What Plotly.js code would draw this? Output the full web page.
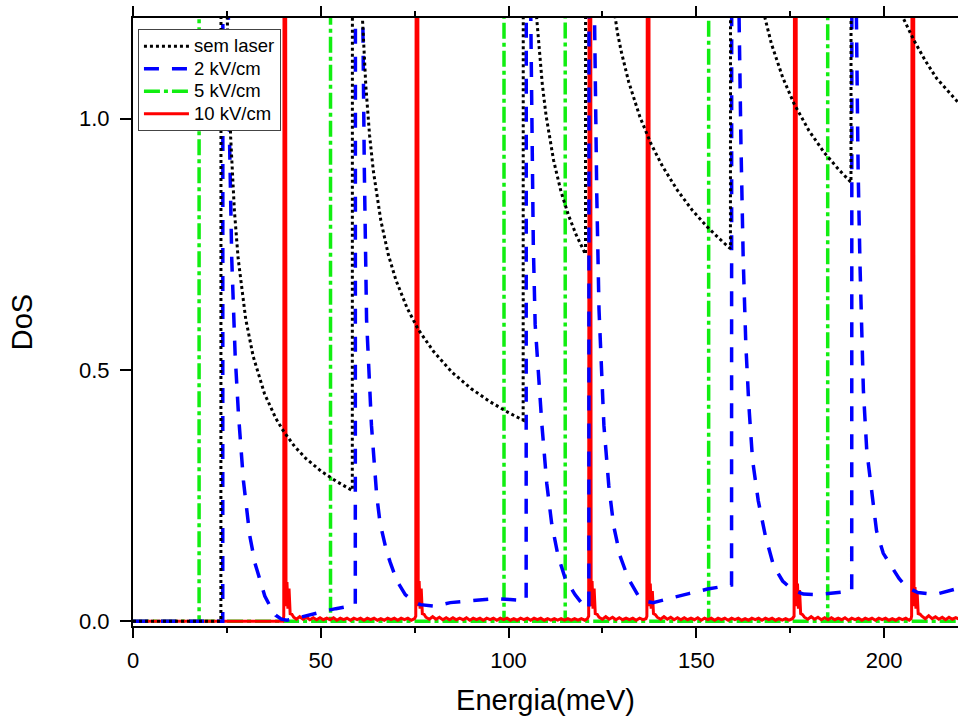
<!DOCTYPE html>
<html>
<head>
<meta charset="utf-8">
<script src="https://cdn.plot.ly/plotly-3.0.1.min.js"></script>
<style>html,body{margin:0;padding:0;overflow:hidden;background:#fff;}#chart{width:958px;height:724px;}</style>
</head>
<body>
<div id="chart"></div>
<script>
// ---- data (values above 1.2 are off-scale peaks) ----
const seriesNames = ["sem laser", "2 kV/cm", "5 kV/cm", "10 kV/cm"];

const semLaserX = [0, 23.4, 23.45, 24.5, 25.1, 26, 27, 28, 30, 32, 35, 38, 40, 43, 46, 50, 54, 58.4,
  58.45, 60, 61.1, 62, 63, 64, 66, 68, 70, 73, 76, 80, 85, 90, 95, 100, 103.9,
  103.95, 106, 107.5, 108, 109, 110, 112, 114, 116, 118, 120.5,
  120.55, 124, 126, 128.3, 129, 130, 132, 135, 138, 141, 145, 149, 153, 156, 159.1,
  159.15, 163, 168.3, 170, 173, 176, 180, 184, 188, 191.2,
  191.25, 196, 201, 205.1, 208, 211, 214, 217, 220];
const semLaserY = [0, 0, 2.0, 1.5, 1.2, 0.964, 0.817, 0.722, 0.602, 0.527, 0.453, 0.404, 0.379, 0.348, 0.324, 0.299, 0.279, 0.260,
  2.0, 1.49, 1.2, 1.065, 0.967, 0.896, 0.797, 0.729, 0.679, 0.623, 0.580, 0.537, 0.495, 0.463, 0.437, 0.415, 0.400,
  2.0, 1.47, 1.2, 1.152, 1.068, 1.006, 0.917, 0.854, 0.807, 0.769, 0.730,
  2.0, 1.52, 1.327, 1.2, 1.171, 1.134, 1.073, 1.003, 0.949, 0.905, 0.857, 0.817, 0.784, 0.762, 0.741,
  2.0, 1.50, 1.2, 1.149, 1.082, 1.030, 0.976, 0.933, 0.898, 0.873,
  2.0, 1.55, 1.30, 1.2, 1.155, 1.115, 1.08, 1.055, 1.03];

const kv2X = [0, 23.9, 23.95, 25.0, 25.4, 25.7, 26.3, 27.2, 28.1, 29.4, 31.1, 32.5, 33.8, 35.1, 36.5, 38, 39.5, 41, 42.5, 45, 48, 51, 54, 57, 59.2,
  59.25, 60.5, 61.2, 61.6, 62.2, 63.5, 64.9, 65.8, 67.5, 68.5, 70.3, 72.5, 74.5, 76.5, 80.5, 84.5, 88.5, 92.4, 96.4, 100.4, 104.7,
  104.75, 105.5, 105.9, 106.6, 107.1, 108, 108.9, 110.2, 111.5, 113.2, 115.1, 117.7, 119.8, 121.4,
  121.45, 122.4, 122.9, 123.5, 124.1, 125.4, 126.7, 128, 129.7, 131.9, 134.6, 136.5, 138.5, 143, 148, 153, 157, 159.4,
  159.45, 160.8, 161.4, 161.9, 162.5, 163.2, 164, 165, 166.5, 168.4, 170.6, 173, 175.5, 178.5, 182.5, 186.5, 191.4,
  191.45, 192.2, 192.6, 193.1, 193.6, 194.5, 195.4, 196.7, 198, 199.8, 201.8, 204, 206, 209, 213.6, 217, 220];
const kv2Y = [0, 0, 2.0, 1.5, 1.2, 0.96, 0.72, 0.53, 0.41, 0.28, 0.17, 0.115, 0.08, 0.05, 0.03, 0.012, 0.004, 0.002, 0.004, 0.009, 0.014, 0.02, 0.025, 0.03, 0.032,
  2.0, 1.5, 1.2, 0.9, 0.6, 0.39, 0.25, 0.195, 0.14, 0.117, 0.08, 0.053, 0.04, 0.033, 0.03, 0.037, 0.04, 0.043, 0.045, 0.043, 0.041,
  2.0, 1.5, 1.2, 0.75, 0.59, 0.48, 0.39, 0.273, 0.194, 0.13, 0.085, 0.053, 0.033, 0.025,
  2.0, 1.5, 1.2, 0.85, 0.62, 0.39, 0.27, 0.19, 0.13, 0.085, 0.05, 0.04, 0.037, 0.046, 0.055, 0.064, 0.07, 0.072,
  2.0, 1.5, 1.2, 0.95, 0.72, 0.55, 0.43, 0.32, 0.24, 0.17, 0.11, 0.08, 0.063, 0.054, 0.053, 0.056, 0.06,
  2.0, 1.5, 1.2, 0.9, 0.71, 0.46, 0.34, 0.26, 0.18, 0.135, 0.11, 0.085, 0.068, 0.057, 0.053, 0.06, 0.066];

// 5 kV/cm: flat at zero with narrow peaks (null = break between strokes)
const kv5X = [0, 17.6, 17.6, null, 17.6, 52.6, 52.6, null, 52.6, 98.8, 98.8, null, 98.8, 115.1, 115.1, null, 115.1, 153.3, 153.3, null, 153.3, 185.0, 185.0, null, 185.0, 220];
const kv5Y = [0, 0, 2.0, null, 0, 0, 2.0, null, 0, 0, 2.0, null, 0, 0, 2.0, null, 0, 0, 2.0, null, 0, 0, 2.0, null, 0, 0];

const kv10X = [0, 39.9,
  40.15, 40.25, 40.6, 40.75, 41.0, 41.25, 41.55, 41.85, 42.3, 42.8,
  43.5, 44.4, 45.3, 46.2, 47.1, 48, 48.9, 49.8, 50.7, 51.6, 52.5, 53.4, 54.3, 55.2, 56.1, 57, 57.9, 58.8, 59.7, 60.6, 61.5, 62.4, 63.3, 64.2, 65.1, 66, 66.9, 67.8, 68.7, 69.6, 70.5, 71.4, 72.3, 73.2, 74.1, 75.0,
  75.3, 75.45, 75.8, 75.95, 76.2, 76.45, 76.75, 77.05, 77.5, 78,
  78.9, 79.8, 80.7, 81.6, 82.5, 83.4, 84.3, 85.2, 86.1, 87, 87.9, 88.8, 89.7, 90.6, 91.5, 92.4, 93.3, 94.2, 95.1, 96, 96.9, 97.8, 98.7, 99.6, 100.5, 101.4, 102.3, 103.2, 104.1, 105, 105.9, 106.8, 107.7, 108.6, 109.5, 110.4, 111.3, 112.2, 113.1, 114, 114.9, 115.8, 116.7, 117.6, 118.5, 119.4, 120.3, 121.0,
  121.35, 121.5, 121.85, 122.0, 122.25, 122.5, 122.8, 123.1, 123.6, 124.1,
  125, 125.9, 126.8, 127.7, 128.6, 129.5, 130.4, 131.3, 132.2, 133.1, 134, 134.9, 135.8, 136.6,
  136.85, 137.0, 137.35, 137.5, 137.75, 138.0, 138.3, 138.6, 139.1, 139.6,
  140.5, 141.4, 142.3, 143.2, 144.1, 145, 145.9, 146.8, 147.7, 148.6, 149.5, 150.4, 151.3, 152.2, 153.1, 154, 154.9, 155.8, 156.7, 157.6, 158.5, 159.4, 160.3, 161.2, 162.1, 163, 163.9, 164.8, 165.7, 166.6, 167.5, 168.4, 169.3, 170.2, 171.1, 172, 172.9, 173.8, 174.7, 175.6,
  176.05, 176.2, 176.55, 176.7, 176.95, 177.2, 177.5, 177.8, 178.3, 178.8,
  179.7, 180.6, 181.5, 182.4, 183.3, 184.2, 185.1, 186, 186.9, 187.8, 188.7, 189.6, 190.5, 191.4, 192.3, 193.2, 194.1, 195, 195.9, 196.8, 197.7, 198.6, 199.5, 200.4, 201.3, 202.2, 203.1, 204, 204.9, 205.8, 206.7, 207.2,
  207.35, 207.5, 207.85, 208.0, 208.25, 208.5, 208.8, 209.1, 209.6, 210.1,
  211, 211.9, 212.8, 213.7, 214.6, 215.5, 216.4, 217.3, 218.2, 219.1, 220];
const kv10Y = [0, 0,
  0.01, 2.0, 2.0, 0.03, 0.078, 0.025, 0.065, 0.015, 0.014, 0.008,
  0.004, 0.009, 0.004, 0.008, 0.003, 0.007, 0.003, 0.007, 0.003, 0.006, 0.003, 0.007, 0.002, 0.006, 0.003, 0.006, 0.002, 0.006, 0.003, 0.006, 0.002, 0.006, 0.003, 0.006, 0.002, 0.005, 0.002, 0.006, 0.003, 0.006, 0.002, 0.006, 0.003, 0.006, 0.002, 0.005,
  0.01, 2.0, 2.0, 0.03, 0.08, 0.025, 0.065, 0.015, 0.014, 0.008,
  0.004, 0.009, 0.004, 0.008, 0.003, 0.007, 0.003, 0.007, 0.003, 0.006, 0.003, 0.007, 0.002, 0.006, 0.003, 0.006, 0.002, 0.006, 0.003, 0.006, 0.002, 0.006, 0.003, 0.006, 0.002, 0.005, 0.002, 0.006, 0.003, 0.006, 0.002, 0.006, 0.003, 0.006, 0.002, 0.005, 0.002, 0.005, 0.002, 0.005, 0.002, 0.005, 0.002, 0.005, 0.002, 0.005, 0.002, 0.005,
  0.01, 2.0, 2.0, 0.03, 0.08, 0.025, 0.065, 0.015, 0.014, 0.008,
  0.004, 0.009, 0.004, 0.008, 0.003, 0.007, 0.003, 0.006, 0.003, 0.006, 0.002, 0.006, 0.003, 0.005,
  0.01, 2.0, 2.0, 0.03, 0.075, 0.025, 0.06, 0.015, 0.013, 0.008,
  0.004, 0.009, 0.004, 0.008, 0.003, 0.007, 0.003, 0.007, 0.003, 0.006, 0.003, 0.007, 0.002, 0.006, 0.003, 0.006, 0.002, 0.006, 0.003, 0.006, 0.002, 0.006, 0.003, 0.006, 0.002, 0.005, 0.002, 0.006, 0.003, 0.006, 0.002, 0.006, 0.003, 0.006, 0.002, 0.005, 0.002, 0.005, 0.002, 0.005,
  0.01, 2.0, 2.0, 0.03, 0.075, 0.025, 0.062, 0.015, 0.013, 0.008,
  0.004, 0.009, 0.004, 0.008, 0.003, 0.007, 0.003, 0.007, 0.003, 0.006, 0.003, 0.007, 0.002, 0.006, 0.003, 0.006, 0.002, 0.006, 0.003, 0.006, 0.002, 0.006, 0.003, 0.006, 0.002, 0.005, 0.002, 0.006, 0.003, 0.006, 0.002, 0.005,
  0.01, 2.0, 2.0, 0.03, 0.068, 0.025, 0.06, 0.015, 0.014, 0.01,
  0.005, 0.011, 0.005, 0.009, 0.004, 0.008, 0.003, 0.008, 0.004, 0.007, 0.004];

const xTickVals = [0, 50, 100, 150, 200];
const yTickVals = [0, 0.5, 1.0];
const xTitle = "Energia(meV)";
const yTitle = "DoS";

// legend entries keep the reference's larger text while rows stay compact
const legendLabel = s => '<span style="font-size:18.5px">' + s + '</span>';

// ---- traces (drawing order: green, red, blue, black; legend order via legendrank) ----
const traces = [
  {x: kv5X, y: kv5Y, name: legendLabel(seriesNames[2]), type: 'scatter', mode: 'lines', connectgaps: false,
   line: {color: '#11ee11', width: 3.5, dash: '16px,4px,4px,4px'}, legendrank: 3},
  {x: kv10X, y: kv10Y, name: legendLabel(seriesNames[3]), type: 'scatter', mode: 'lines',
   line: {color: '#ff0000', width: 3}, legendrank: 4},
  {x: kv2X, y: kv2Y, name: legendLabel(seriesNames[1]), type: 'scatter', mode: 'lines',
   line: {color: '#0000ff', width: 3.5, dash: '15px,13px'}, legendrank: 2},
  {x: semLaserX, y: semLaserY, name: legendLabel(seriesNames[0]), type: 'scatter', mode: 'lines',
   line: {color: '#000000', width: 3, dash: '3px,3px'}, legendrank: 1}
];

const layout = {
  width: 958, height: 724,
  margin: {l: 133, r: 0, t: 18, b: 98},
  paper_bgcolor: '#ffffff', plot_bgcolor: '#ffffff',
  font: {family: 'Liberation Sans, Arial, sans-serif', color: '#000'},
  showlegend: true,
  legend: {x: 0.006, y: 0.982, xanchor: 'left', yanchor: 'top', bgcolor: '#ffffff',
    bordercolor: '#444', borderwidth: 1, font: {size: 15}, itemwidth: 45, tracegroupgap: 0},
  xaxis: {range: [0, 219.7], tickvals: xTickVals, ticks: 'outside', ticklen: 10, tickwidth: 2, tickcolor: '#000',
    showline: true, linewidth: 2, linecolor: '#000', mirror: 'ticks', showgrid: false, zeroline: false,
    minor: {dtick: 25, tick0: 0, ticks: 'outside', ticklen: 5, tickwidth: 2, tickcolor: '#000'},
    tickfont: {size: 22}, ticklabelstandoff: 4,
    title: {text: xTitle, font: {size: 29}, standoff: 17}},
  yaxis: {range: [-0.0095, 1.2], tickvals: yTickVals, tickformat: '.1f', ticks: 'outside', ticklen: 11, tickwidth: 2, tickcolor: '#000',
    showline: true, linewidth: 2, linecolor: '#000', mirror: false, showgrid: false, zeroline: false,
    tickfont: {size: 22}, ticklabelstandoff: 6,
    title: {text: yTitle, font: {size: 29}, standoff: 38}}
};

Plotly.newPlot('chart', traces, layout, {displayModeBar: false, staticPlot: true});
</script>
</body>
</html>
